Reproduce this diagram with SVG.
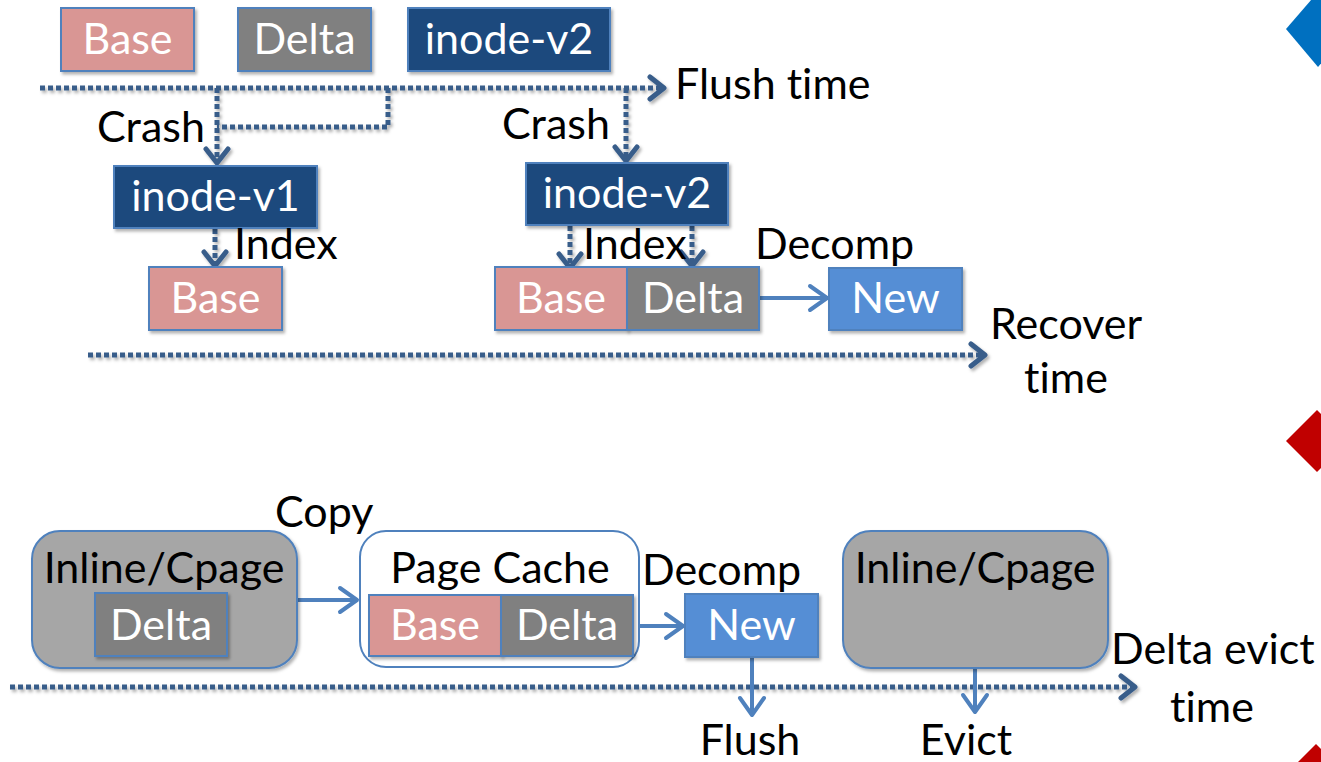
<svg xmlns="http://www.w3.org/2000/svg" width="1321" height="762" viewBox="0 0 1321 762">
  <style>
    text { font-family: Lato, "Open Sans", "Liberation Sans", sans-serif; font-size: 43px; font-variant-ligatures: none; font-feature-settings: "liga" 0, "clig" 0; }
    .lbl { fill: #000; }
    .in { fill: #fff; text-anchor: middle; }
    .c { text-anchor: middle; }
    .box { stroke: #4F81BD; stroke-width: 2; filter: url(#sh); }
    .base { fill: #D99694; }
    .delta { fill: #808080; }
    .inode { fill: #1F497D; }
    .new { fill: #558ED5; }
    .cont { fill: #A6A6A6; stroke: #4F81BD; stroke-width: 2; filter: url(#sh); }
    .cache { fill: #fff; stroke: #4F81BD; stroke-width: 2; }
    .dot { fill: none; stroke: #385D8A; stroke-width: 5; stroke-dasharray: 5 3; filter: url(#sh); }
    .dotm { fill: none; stroke: #385D8A; stroke-width: 5; stroke-dasharray: 5 3; filter: url(#sh); marker-end: url(#chevD); }
    .sol { fill: none; stroke: #4F81BD; stroke-width: 4; marker-end: url(#chevL); }
  </style>
  <defs>
    <filter id="sh" filterUnits="userSpaceOnUse" x="0" y="0" width="1321" height="762">
      <feDropShadow dx="2" dy="2.5" stdDeviation="1.5" flood-color="#000" flood-opacity="0.3"/>
    </filter>
    <marker id="chevD" markerUnits="userSpaceOnUse" viewBox="0 0 22 30" markerWidth="22" markerHeight="30" refX="13" refY="15" orient="auto">
      <path d="M3,4 L17,15 L3,26" fill="none" stroke="#385D8A" stroke-width="5" stroke-linecap="round" stroke-linejoin="round" stroke-dasharray="none"/>
    </marker>
    <marker id="chevL" markerUnits="userSpaceOnUse" viewBox="0 0 24 30" markerWidth="24" markerHeight="30" refX="19" refY="15" orient="auto">
      <path d="M3,3 L20,15 L3,27" fill="none" stroke="#4F81BD" stroke-width="4" stroke-linecap="round" stroke-linejoin="round"/>
    </marker>
  </defs>

  <!-- side markers on the slide edge -->
  <polygon points="1286,29 1318,-8 1350,29 1318,67" fill="#0070C0"/>
  <polygon points="1286,441 1317,410 1348,441 1317,472" fill="#C00000"/>
  <polygon points="1285,775 1316,744 1347,775 1316,806" fill="#C00000"/>

  <!-- connectors -->
  <g id="connectors">
    <path class="dotm" d="M40,88 H660"/>
    <path class="dotm" d="M217,88 V159"/>
    <path class="dot" d="M388,88 V127 H217"/>
    <path class="dotm" d="M626,88 V157"/>
    <path class="dotm" d="M215,229 V262"/>
    <path class="dotm" d="M570,226 V264"/>
    <path class="dotm" d="M692,226 V262"/>
    <path class="dotm" d="M88,355 H981"/>
    <path class="dotm" d="M10,687 H1131"/>
    <path class="sol" d="M759,298 H826"/>
    <path class="sol" d="M297,600 H356"/>
    <path class="sol" d="M633,626 H682"/>
    <path class="sol" d="M752,657 V714"/>
    <path class="sol" d="M975,668 V711"/>
  </g>

  <!-- stored blocks before the flush -->
  <g id="top-base">
    <rect class="box base" x="61" y="8" width="133" height="63"/>
    <text class="in" x="127.5" y="54">Base</text>
  </g>
  <g id="top-delta">
    <rect class="box delta" x="238" y="8" width="133" height="63"/>
    <text class="in" x="304.5" y="54">Delta</text>
  </g>
  <g id="top-inode-v2">
    <rect class="box inode" x="408" y="8" width="202" height="63"/>
    <text class="in" x="509" y="54">inode-v2</text>
  </g>

  <!-- recovery, first crash -->
  <g id="inode-v1">
    <rect class="box inode" x="114" y="166" width="203" height="62"/>
    <text class="in" x="215.5" y="211">inode-v1</text>
  </g>
  <g id="rec-base-1">
    <rect class="box base" x="149" y="267" width="133" height="63"/>
    <text class="in" x="215.5" y="313">Base</text>
  </g>

  <!-- recovery, second crash -->
  <g id="inode-v2">
    <rect class="box inode" x="526" y="163" width="202" height="62"/>
    <text class="in" x="627" y="208">inode-v2</text>
  </g>
  <g id="rec-base-delta">
    <rect class="box base" x="495" y="267" width="132" height="63"/>
    <rect class="box delta" x="627" y="267" width="132" height="63"/>
    <text class="in" x="561" y="313">Base</text>
    <text class="in" x="693" y="313">Delta</text>
  </g>
  <g id="rec-new">
    <rect class="box new" x="829" y="268" width="133" height="62"/>
    <text class="in" x="895.5" y="313">New</text>
  </g>

  <!-- eviction path -->
  <g id="inline-cpage-1">
    <rect class="cont" x="32" y="531" width="265" height="137" rx="28"/>
    <text class="lbl c" x="164" y="583">Inline/Cpage</text>
    <rect class="box delta" x="95" y="593" width="132" height="63"/>
    <text class="in" x="161" y="640">Delta</text>
  </g>
  <g id="page-cache">
    <rect class="cache" x="360" y="531" width="279" height="136" rx="26"/>
    <text class="lbl c" x="500" y="583">Page Cache</text>
    <rect class="box base" x="369" y="595" width="132" height="61"/>
    <rect class="box delta" x="501" y="595" width="132" height="61"/>
    <text class="in" x="435" y="640">Base</text>
    <text class="in" x="567" y="640">Delta</text>
  </g>
  <g id="evict-new">
    <rect class="box new" x="685" y="594" width="133" height="63"/>
    <text class="in" x="751.5" y="640">New</text>
  </g>
  <g id="inline-cpage-2">
    <rect class="cont" x="843" y="531" width="265" height="137" rx="28"/>
    <text class="lbl c" x="975" y="583">Inline/Cpage</text>
  </g>

  <!-- labels -->
  <g id="labels">
    <text class="lbl" x="675" y="99">Flush time</text>
    <text class="lbl" x="97" y="142">Crash</text>
    <text class="lbl" x="502" y="139">Crash</text>
    <text class="lbl" x="234" y="259">Index</text>
    <text class="lbl" x="583" y="259">Index</text>
    <text class="lbl" x="755" y="259">Decomp</text>
    <text class="lbl" x="990" y="339">Recover</text>
    <text class="lbl c" x="1066" y="393">time</text>
    <text class="lbl" x="275" y="527">Copy</text>
    <text class="lbl" x="642" y="585">Decomp</text>
    <text class="lbl" x="1111" y="664">Delta evict</text>
    <text class="lbl c" x="1212" y="722">time</text>
    <text class="lbl c" x="750" y="755">Flush</text>
    <text class="lbl c" x="966" y="755">Evict</text>
  </g>
</svg>
